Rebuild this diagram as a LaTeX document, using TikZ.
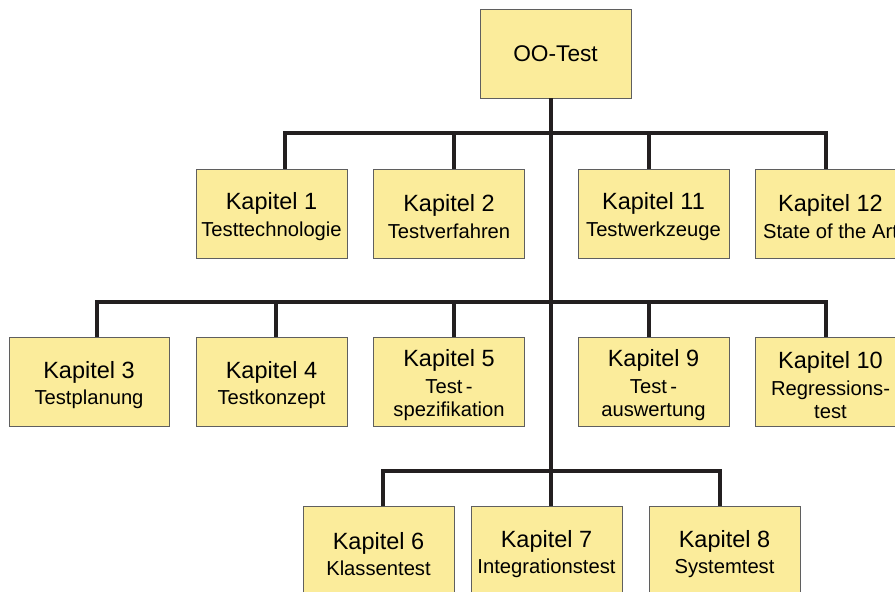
\documentclass[tikz,border=0pt]{standalone}
\usepackage{fontspec}
\setmainfont{Liberation Sans}
\usetikzlibrary{positioning}
\definecolor{boxfill}{RGB}{251,236,155}
\definecolor{boxline}{RGB}{95,95,95}
\definecolor{barline}{RGB}{35,31,32}
\newcommand\subfont{\fontsize{20.2}{23.3}\selectfont}
\newcommand\kap[1]{{\fontsize{23.5}{27}\selectfont\rule{0pt}{23pt}#1}}

\begin{document}
\begin{tikzpicture}[x=1pt,y=1pt]
  \tikzset{chapter/.style={draw=boxline, fill=boxfill, minimum width=151pt, minimum height=89pt, align=center, font=\subfont, inner sep=0pt}}
  \tikzset{bar/.style={draw=barline, line width=4pt}}

  \useasboundingbox (0,0) rectangle (895,592);
  \clip (0,0) rectangle (895,592);

  \node[chapter, font=\fontsize{22.7}{26}\selectfont] (oo) at (555.5,538.5) {OO-Test};

  % first row
  \node[chapter] (k1) at (271.5,378.5) {\kap{Kapitel 1}\\[3pt]Testtechnologie};
  \node[chapter] (k2) at (449,378.5) {\kap{Kapitel 2}\\[3pt]Testverfahren};
  \node[chapter] (k11) at (653.5,378.5) {\kap{Kapitel 11}\\[3pt]Testwerkzeuge};
  \node[chapter] (k12) at (830.5,378.5) {\kap{Kapitel 12}\\[3pt]State of the Art};

  % second row
  \node[chapter, minimum width=160pt] (k3) at (89,210) {\kap{Kapitel 3}\\[3pt]Testplanung};
  \node[chapter] (k4) at (271.5,210) {\kap{Kapitel 4}\\[3pt]Testkonzept};
  \node[chapter] (k5) at (449,210) {\kap{Kapitel 5}\\[3.4pt]Test\,-\\spezifikation};
  \node[chapter] (k9) at (653.5,210) {\kap{Kapitel 9}\\[3.4pt]Test\,-\\auswertung};
  \node[chapter] (k10) at (830.5,210) {\kap{Kapitel 10}\\[3.4pt]Regressions-\\test};

  % third row
  \node[chapter] (k6) at (378.5,41) {\kap{Kapitel 6}\\[3pt]Klassentest};
  \node[chapter] (k7) at (546.5,41) {\kap{Kapitel 7}\\[3pt]Integrationstest};
  \node[chapter] (k8) at (724.5,41) {\kap{Kapitel 8}\\[3pt]Systemtest};

  \coordinate (trunk) at (550.5,0);
  \coordinate (d1) at (285,459);
  \coordinate (d2) at (454,459);
  \coordinate (d11) at (649,459);
  \coordinate (d12) at (826,459);
  \coordinate (d3) at (97,290);
  \coordinate (d4) at (276,290);
  \coordinate (d5) at (454,290);
  \coordinate (d9) at (649,290);
  \coordinate (d10) at (826,290);
  \coordinate (d6) at (383,121);
  \coordinate (d8) at (720,121);

  \draw[bar] (oo.south -| trunk) -- (k7.north -| trunk);

  \draw[bar] (k1.north -| d1) |- (d12) -- (k12.north -| d12);
  \draw[bar] (d2) -- (k2.north -| d2);
  \draw[bar] (d11) -- (k11.north -| d11);

  \draw[bar] (k3.north -| d3) |- (d10) -- (k10.north -| d10);
  \draw[bar] (d4) -- (k4.north -| d4);
  \draw[bar] (d5) -- (k5.north -| d5);
  \draw[bar] (d9) -- (k9.north -| d9);

  \draw[bar] (k6.north -| d6) |- (d8) -- (k8.north -| d8);
\end{tikzpicture}
\end{document}
